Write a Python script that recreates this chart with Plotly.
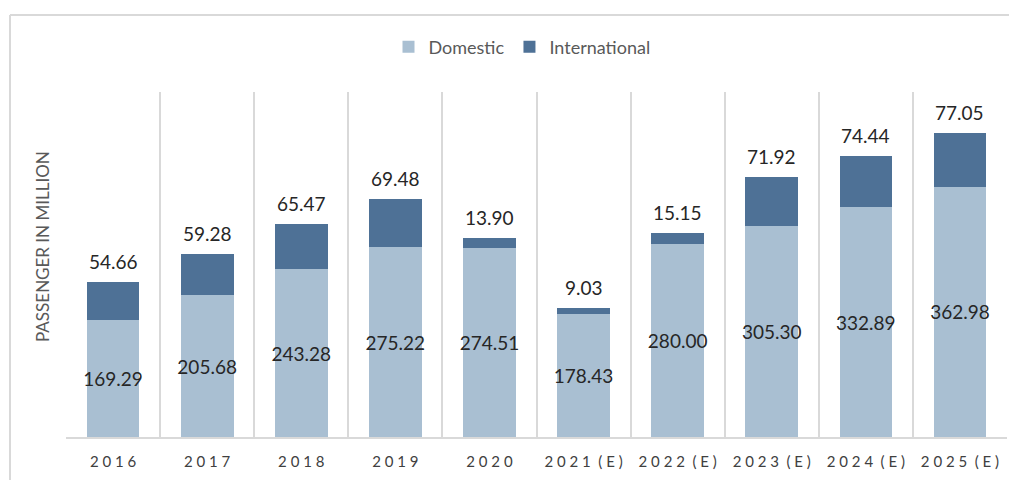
import plotly.graph_objects as go

categories = ["2016", "2017", "2018", "2019", "2020",
              "2021 (E)", "2022 (E)", "2023 (E)", "2024 (E)", "2025 (E)"]
domestic = [169.29, 205.68, 243.28, 275.22, 274.51, 178.43, 280.00, 305.30, 332.89, 362.98]
international = [54.66, 59.28, 65.47, 69.48, 13.90, 9.03, 15.15, 71.92, 74.44, 77.05]


def spaced(label):
    parts = label.split(" ")
    return "\u2002".join(" ".join(p) for p in parts)


tick_text = [spaced(c) for c in categories]
totals = [d + i for d, i in zip(domestic, international)]

FONT = "Lato"
LABEL_COLOR = "#262626"
GRID = "#d9d9d9"

# page has an 8px body margin; figure sized to fit the 1017x480 window
OFF = 8
W, H = 1017 - OFF, 480 - OFF
# plot area in figure pixels
L, R, T, B = 66 - OFF, 1007 - OFF, 92 - OFF, 437 - OFF
PW, PH = R - L, B - T


def px_x(x):
    return (x - OFF - L) / PW


def px_y(y):
    return (B - (y - OFF)) / PH


fig = go.Figure()
fig.add_trace(go.Bar(
    name="Domestic", x=categories, y=domestic,
    marker=dict(color="#a9bfd2", line=dict(width=0)),
    text=[f"{v:.2f}" for v in domestic],
    textposition="inside", insidetextanchor="middle", textangle=0,
    constraintext="none",
    textfont=dict(family=FONT, size=19, color=LABEL_COLOR),
))
fig.add_trace(go.Bar(
    name="International", x=categories, y=international,
    marker=dict(color="#4e7196", line=dict(width=0)),
    textposition="none",
))

# category axes index categories by position
annotations = [
    dict(text=f"{v:.2f}", x=idx, y=t, xref="x", yref="y", showarrow=False,
         xanchor="center", yanchor="bottom", yshift=7,
         font=dict(family=FONT, size=19, color=LABEL_COLOR))
    for idx, (v, t) in enumerate(zip(international, totals))
]
annotations.append(
    dict(text="PASSENGER IN MILLION", textangle=-90, showarrow=False,
         xref="paper", yref="paper", x=px_x(42), y=px_y(247),
         xanchor="center", yanchor="middle",
         font=dict(family=FONT, size=17, color="#595959"))
)

fig.update_layout(
    width=W, height=H,
    barmode="stack", bargap=0.44,
    plot_bgcolor="white", paper_bgcolor="white",
    margin=dict(l=L, r=W - R, t=T, b=H - B, autoexpand=False),
    font=dict(family=FONT, color="#595959"),
    legend=dict(orientation="h", x=px_x(522), xanchor="center", y=px_y(47), yanchor="middle",
                font=dict(size=18, color="#595959"), traceorder="normal"),
    showlegend=True,
    xaxis=dict(
        type="category", categoryorder="array", categoryarray=categories,
        range=[-0.5, len(categories) - 0.5],
        tickmode="array", tickvals=categories, ticktext=tick_text,
        tickson="boundaries", showgrid=True, gridcolor=GRID, gridwidth=1.5,
        showline=True, linecolor=GRID, linewidth=1.5,
        ticks="", tickfont=dict(family=FONT, size=15, color="#404040"),
        ticklabelstandoff=10, automargin=False,
    ),
    yaxis=dict(
        range=[0, 500], showgrid=False, showticklabels=False, zeroline=False,
        ticks="", showline=False, automargin=False,
    ),
    annotations=annotations,
    shapes=[
        dict(type="line", xref="paper", yref="paper",
             x0=px_x(10), x1=px_x(1017), y0=px_y(15), y1=px_y(15),
             line=dict(color=GRID, width=2)),
        dict(type="line", xref="paper", yref="paper",
             x0=px_x(10), x1=px_x(10), y0=px_y(15), y1=px_y(480),
             line=dict(color=GRID, width=2)),
    ],
)

fig.write_html("out.html")
